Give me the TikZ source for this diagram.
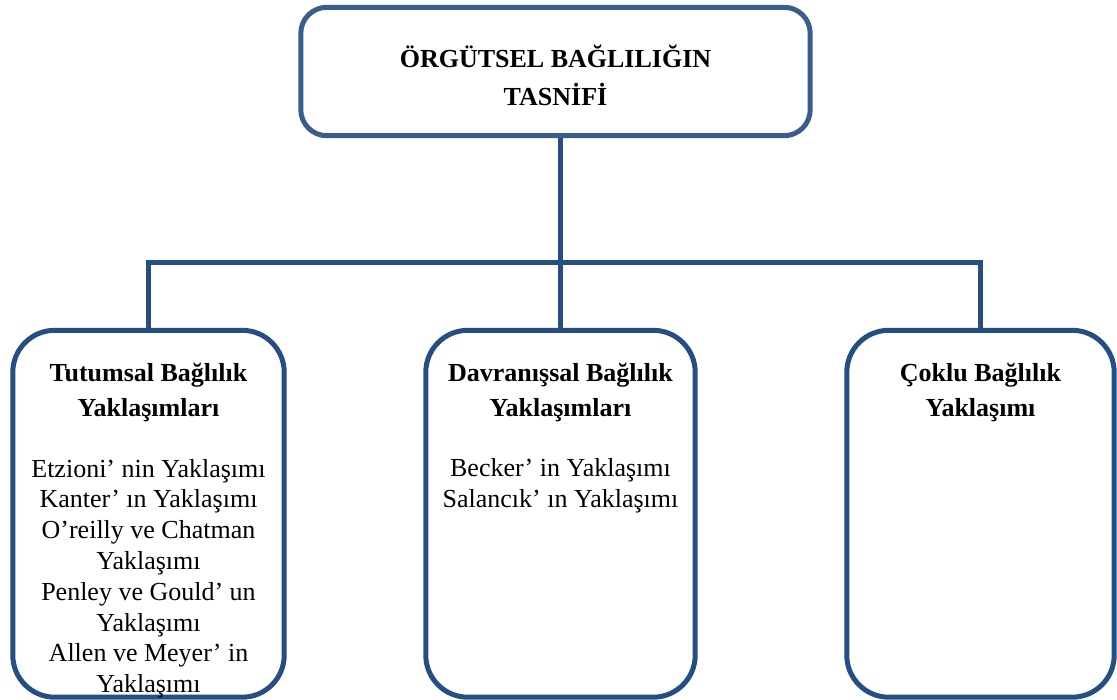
\documentclass[tikz,border=0pt]{standalone}
\usepackage{fontspec}
\setmainfont{Liberation Serif}
\definecolor{boxblue}{RGB}{36,78,132}
\definecolor{topblue}{RGB}{58,94,140}
\begin{document}
\begin{tikzpicture}[x=1pt,y=-1pt,
  frame/.style={draw=boxblue, line width=5pt, rounded corners=42pt, fill=white, inner sep=0pt},
  topframe/.style={frame, draw=topblue, rounded corners=26pt},
  conn/.style={draw=boxblue, line width=5pt},
  headtxt/.style={font=\fontsize{26}{35}\bfseries\selectfont, align=center, anchor=base, inner sep=0pt},
  titletxt/.style={font=\fontsize{26}{38}\bfseries\selectfont, align=center, anchor=base, inner sep=0pt},
  listtxt/.style={font=\fontsize{26}{30.8}\selectfont, align=center, anchor=base, inner sep=0pt}
]
\useasboundingbox (0,0) rectangle (1117,700);
% box geometry
\node[minimum width=271pt, minimum height=366.5pt, inner sep=0pt] (left) at (148.5,513.75) {};
\node[minimum width=269pt, minimum height=366.5pt, inner sep=0pt] (mid) at (560.5,513.75) {};
\node[minimum width=267pt, minimum height=366.5pt, inner sep=0pt] (right) at (980.5,513.75) {};
\node[minimum width=509pt, minimum height=128pt, inner sep=0pt] (top) at (555.5,71.5) {};
% connectors
\draw[conn] (top.south -| mid.north) -- (mid.north);
\draw[conn] (left.north) -- ++(0,-68) -| (right.north);
% frames
\path[frame] (left.north west) rectangle (left.south east);
\path[frame] (mid.north west) rectangle (mid.south east);
\path[frame] (right.north west) rectangle (right.south east);
\path[topframe] (top.north west) rectangle (top.south east);
% texts (base anchor = baseline of the last line)
\node[titletxt] (t-title) at (555.5,106) {ÖRGÜTSEL BAĞLILIĞIN\\TASNİFİ};
\node[headtxt] (t-left) at (148.5,417) {Tutumsal Bağlılık\\Yaklaşımları};
\node[listtxt] (l-left) at (148.5,692.6) {Etzioni’ nin Yaklaşımı\\Kanter’ ın Yaklaşımı\\O’reilly ve Chatman\\Yaklaşımı\\Penley ve Gould’ un\\Yaklaşımı\\Allen ve Meyer’ in\\Yaklaşımı};
\node[headtxt] (t-mid) at (560.5,417) {Davranışsal Bağlılık\\Yaklaşımları};
\node[listtxt] (l-mid) at (560.5,507.8) {Becker’ in Yaklaşımı\\Salancık’ ın Yaklaşımı};
\node[headtxt] (t-right) at (980.5,417) {Çoklu Bağlılık\\Yaklaşımı};
\end{tikzpicture}
\end{document}
